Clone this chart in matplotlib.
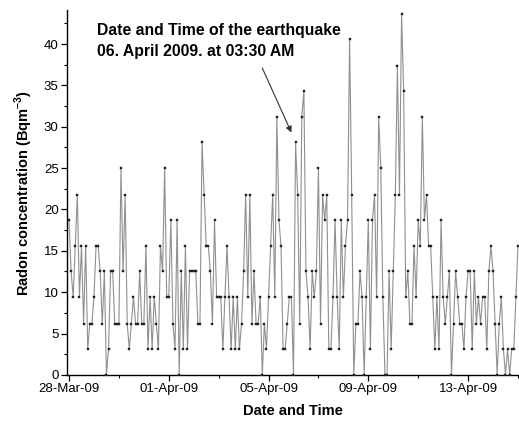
import matplotlib
matplotlib.use("Agg")
import matplotlib.pyplot as plt
import matplotlib.dates as mdates
from matplotlib.ticker import MultipleLocator, FixedLocator
import pandas as pd

plt.rcParams['font.family'] = ['Liberation Sans', 'DejaVu Sans']
plt.rcParams['mathtext.fontset'] = 'custom'
plt.rcParams['mathtext.rm'] = 'Liberation Sans'
plt.rcParams['mathtext.bf'] = 'Liberation Sans:bold'

# Radon readings, one every two hours starting 28 March 2009 00:00 (Bq/m3)
start_time = "2009-03-28 00:00"
sample_step = "2h"
radon = [
    18.7, 12.5, 9.4, 15.6, 21.8, 9.4, 15.6, 6.2, 15.6, 3.1,
    6.2, 6.2, 9.4, 15.6, 15.6, 12.5, 6.2, 12.5, 0.0, 3.1,
    12.5, 12.5, 6.2, 6.2, 6.2, 25.0, 12.5, 21.8, 6.2, 3.1,
    6.2, 9.4, 6.2, 6.2, 12.5, 6.2, 6.2, 15.6, 3.1, 9.4,
    3.1, 9.4, 6.2, 3.1, 15.6, 12.5, 25.0, 9.4, 9.4, 18.7,
    6.2, 3.1, 18.7, 0.0, 12.5, 3.1, 15.6, 3.1, 12.5, 12.5,
    12.5, 12.5, 6.2, 6.2, 28.1, 21.8, 15.6, 15.6, 12.5, 6.2,
    18.7, 9.4, 9.4, 9.4, 3.1, 9.4, 15.6, 9.4, 3.1, 9.4,
    3.1, 9.4, 3.1, 6.2, 12.5, 21.8, 9.4, 21.8, 6.2, 12.5,
    6.2, 6.2, 9.4, 0.0, 6.2, 3.1, 9.4, 15.6, 21.8, 9.4,
    31.2, 18.7, 15.6, 3.1, 3.1, 6.2, 9.4, 9.4, 0.0, 28.1,
    21.8, 6.2, 31.2, 34.3, 12.5, 9.4, 3.1, 12.5, 9.4, 12.5,
    25.0, 6.2, 21.8, 18.7, 21.8, 3.1, 3.1, 9.4, 18.7, 9.4,
    3.1, 18.7, 9.4, 15.6, 18.7, 40.6, 21.8, 0.0, 6.2, 6.2,
    12.5, 9.4, 0.0, 9.4, 18.7, 3.1, 18.7, 21.8, 9.4, 31.2,
    25.0, 9.4, 0.0, 0.0, 12.5, 3.1, 12.5, 21.8, 37.4, 21.8,
    43.7, 34.3, 9.4, 12.5, 6.2, 6.2, 15.6, 9.4, 18.7, 15.6,
    31.2, 18.7, 21.8, 15.6, 15.6, 9.4, 3.1, 9.4, 3.1, 18.7,
    9.4, 6.2, 9.4, 12.5, 0.0, 6.2, 12.5, 9.4, 6.2, 6.2,
    3.1, 9.4, 12.5, 12.5, 3.1, 12.5, 6.2, 9.4, 6.2, 9.4,
    9.4, 3.1, 12.5, 15.6, 12.5, 6.2, 0.0, 6.2, 9.4, 3.1,
    0.0, 3.1, 0.0, 3.1, 3.1, 9.4, 15.6,
]
major_dates = ["2009-03-28", "2009-04-01", "2009-04-05", "2009-04-09", "2009-04-13"]
minor_dates = ["2009-03-30", "2009-04-03", "2009-04-07", "2009-04-11", "2009-04-15"]
y_ticks = [0, 5, 10, 15, 20, 25, 30, 35, 40]

note = "Date and Time of the earthquake\n06. April 2009. at 03:30 AM"
note_pos = ("2009-03-29 03:00", 42.5)
arrow_tail = ("2009-04-04 18:00", 37.1)
arrow_tip = ("2009-04-05 22:00", 29.3)

times = pd.date_range(start_time, periods=len(radon), freq=sample_step)

fig = plt.figure(figsize=(5.19, 4.25), dpi=100)
ax = fig.add_axes([0.129, 0.118, 0.871, 0.858])

ax.plot(times, radon, color="#909090", lw=0.8, zorder=2)
ax.plot(times, radon, ls="none", marker="s", ms=2.0, mfc="#222222",
        mec="#222222", mew=0.3, zorder=3)

ax.set_xlim(pd.Timestamp("2009-03-27 22:00"), pd.Timestamp("2009-04-15 01:00"))
ax.set_ylim(0, 44.1)

ax.xaxis.set_major_locator(FixedLocator(mdates.date2num(pd.to_datetime(major_dates))))
ax.xaxis.set_minor_locator(FixedLocator(mdates.date2num(pd.to_datetime(minor_dates))))
ax.xaxis.set_major_formatter(mdates.DateFormatter("%d-%b-%y"))
ax.set_yticks(y_ticks)
ax.yaxis.set_minor_locator(MultipleLocator(2.5))

for side in ("top", "right"):
    ax.spines[side].set_visible(False)
for side in ("left", "bottom"):
    ax.spines[side].set_linewidth(1.0)

ax.tick_params(axis="both", which="major", direction="out", length=4, width=0.9,
               labelsize=9.5, pad=2)
ax.tick_params(axis="both", which="minor", direction="out", length=2.5, width=0.8)

ax.set_xlabel("Date and Time", fontsize=10.5, fontweight="bold", labelpad=6)
ax.set_ylabel(r"Radon concentration (Bqm$^{\mathbf{-3}}$)", fontsize=10.5,
              fontweight="bold", labelpad=6)

ax.text(pd.Timestamp(note_pos[0]), note_pos[1], note, ha="left", va="top",
        fontsize=11.3, fontweight="bold", linespacing=1.45)
ax.annotate("", xy=(pd.Timestamp(arrow_tip[0]), arrow_tip[1]),
            xytext=(pd.Timestamp(arrow_tail[0]), arrow_tail[1]),
            arrowprops=dict(arrowstyle="-|>", color="#333333", lw=0.8,
                            mutation_scale=9, shrinkA=0, shrinkB=0))

fig.savefig("out.png", dpi=100)
